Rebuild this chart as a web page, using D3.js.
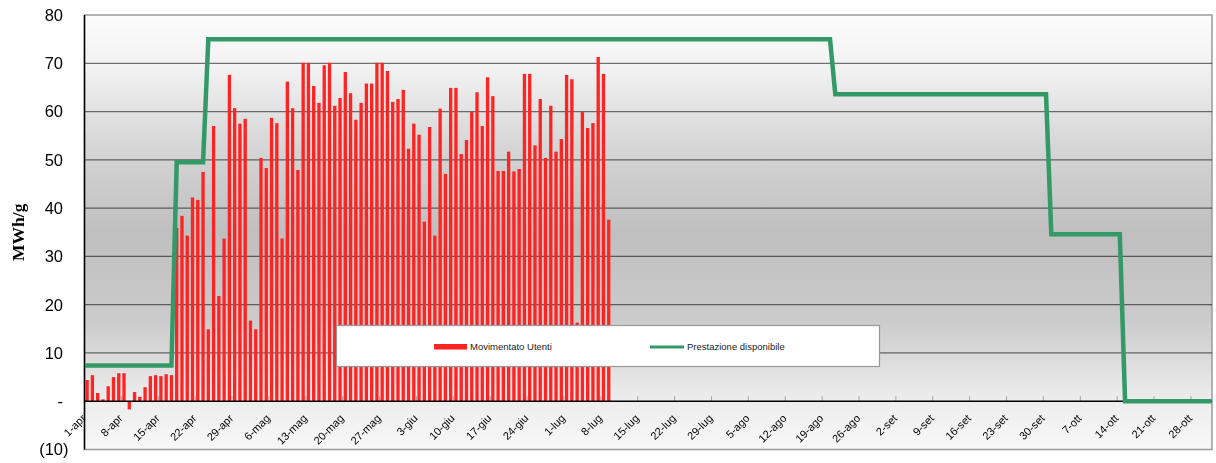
<!DOCTYPE html>
<html>
<head>
<meta charset="utf-8">
<script src="https://cdn.jsdelivr.net/npm/d3@7"></script>
<style>
  body { margin: 0; background: #fff; }
  svg { display: block; }
</style>
</head>
<body>
<svg id="chart" width="1216" height="463"></svg>
<script>
// Daily "Movimentato Utenti" values (MWh/g), from 1-apr onwards
const movimentato = [
    4.4, 5.4, 1.7, 0.4, 3.1, 5.0, 5.8, 5.8, -1.7, 1.9,
    0.9, 2.9, 5.2, 5.4, 5.2, 5.6, 5.4, 35.9, 38.4, 34.3,
    42.2, 41.7, 47.5, 14.9, 57.0, 21.8, 33.7, 67.6, 60.7, 57.5,
    58.5, 16.7, 14.9, 50.4, 48.3, 58.7, 57.6, 33.7, 66.2, 60.7,
    47.9, 70.1, 70.1, 65.3, 61.8, 69.6, 70.1, 61.2, 62.8, 68.2,
    63.8, 58.3, 61.8, 65.8, 65.8, 70.1, 70.1, 68.4, 62.0, 62.6,
    64.5, 52.3, 57.5, 55.2, 37.2, 56.8, 34.3, 60.6, 47.1, 64.9,
    64.9, 51.2, 54.1, 59.9, 64.0, 57.0, 67.1, 63.2, 47.7, 47.7,
    51.7, 47.6, 48.1, 67.8, 67.8, 53.0, 62.6, 50.4, 61.2, 51.7,
    54.3, 67.6, 66.7, 16.3, 59.9, 56.6, 57.6, 71.3, 67.8, 37.6
];

// "Prestazione disponibile" step line: corner days and values
const prestazioneDays = ["1-apr", "17-apr", "18-apr", "23-apr", "24-apr", "20-ago",
                         "21-ago", "30-set", "1-ott", "14-ott", "15-ott", "31-ott"];
const prestazioneValues = [7.4, 7.4, 49.5, 49.5, 75, 75, 63.6, 63.6, 34.6, 34.6, 0, 0];

// X tick labels (one every 7 days)
const tickLabels = ["1-apr", "8-apr", "15-apr", "22-apr", "29-apr", "6-mag", "13-mag",
    "20-mag", "27-mag", "3-giu", "10-giu", "17-giu", "24-giu", "1-lug", "8-lug",
    "15-lug", "22-lug", "29-lug", "5-ago", "12-ago", "19-ago", "26-ago", "2-set",
    "9-set", "16-set", "23-set", "30-set", "7-ott", "14-ott", "21-ott", "28-ott"];

const yTicks = [-10, 0, 10, 20, 30, 40, 50, 60, 70, 80];

// Italian short month names for the day categories
const itLocale = d3.timeFormatLocale({
    dateTime: "%A %e %B %Y, %X", date: "%d/%m/%Y", time: "%H:%M:%S",
    periods: ["AM", "PM"],
    days: ["domenica", "lunedì", "martedì", "mercoledì", "giovedì", "venerdì", "sabato"],
    shortDays: ["dom", "lun", "mar", "mer", "gio", "ven", "sab"],
    months: ["gennaio", "febbraio", "marzo", "aprile", "maggio", "giugno", "luglio",
             "agosto", "settembre", "ottobre", "novembre", "dicembre"],
    shortMonths: ["gen", "feb", "mar", "apr", "mag", "giu", "lug", "ago", "set", "ott", "nov", "dic"]
});
const dayFmt = itLocale.format("%-d-%b");
const days = d3.timeDay.range(new Date(2008, 3, 1), new Date(2008, 10, 1)).map(dayFmt);

const svg = d3.select("#chart");
const plot = { left: 84.5, right: 1212, top: 15, bottom: 449.5 };

const x = d3.scaleBand()
    .domain(days)
    .range([plot.left, plot.right])
    .paddingInner(0.37)
    .paddingOuter(0.185);
const step = x.step();
const catLeft = d => x(d) - step * 0.185;

const y = d3.scaleLinear().domain([-10, 80]).range([plot.bottom, plot.top]);

// Background gradient of the plot area
const defs = svg.append("defs");
const grad = defs.append("linearGradient")
    .attr("id", "bg").attr("x1", 0).attr("y1", 0).attr("x2", 0).attr("y2", 1);
[[0, "#fcfcfc"], [0.12, "#f2f2f2"], [0.3, "#d6d6d6"], [0.5, "#bfbfbf"],
 [0.7, "#cbcbcb"], [0.88, "#ececec"], [1, "#f8f8f8"]].forEach(s => {
    grad.append("stop").attr("offset", s[0]).attr("stop-color", s[1]);
});

svg.append("rect")
    .attr("x", plot.left).attr("y", plot.top)
    .attr("width", plot.right - plot.left).attr("height", plot.bottom - plot.top)
    .attr("fill", "url(#bg)")
    .attr("stroke", "#9a9a9a").attr("stroke-width", 1.5);

// Gridlines
svg.append("g")
    .selectAll("line")
    .data(yTicks.filter(v => v > 0 && v < 80))
    .join("line")
    .attr("x1", plot.left).attr("x2", plot.right)
    .attr("y1", d => y(d)).attr("y2", d => y(d))
    .attr("stroke", "#767676")
    .attr("stroke-width", 1.3)
    .style("mix-blend-mode", "multiply");

// Small tick marks on the category axis
svg.append("g")
    .selectAll("line")
    .data(tickLabels)
    .join("line")
    .attr("x1", d => catLeft(d)).attr("x2", d => catLeft(d))
    .attr("y1", y(0) - 5).attr("y2", y(0))
    .attr("stroke", "#a0a0a0");

// Bars
svg.append("g")
    .selectAll("rect")
    .data(movimentato)
    .join("rect")
    .attr("x", (d, i) => x(days[i]))
    .attr("width", x.bandwidth())
    .attr("y", d => y(Math.max(0, d)))
    .attr("height", d => Math.abs(y(d) - y(0)))
    .attr("fill", "#ff2424");

// Axis lines
svg.append("line")
    .attr("x1", plot.left).attr("x2", plot.right)
    .attr("y1", y(0)).attr("y2", y(0))
    .attr("stroke", "#000").attr("stroke-width", 1.5);
svg.append("line")
    .attr("x1", plot.left).attr("x2", plot.left)
    .attr("y1", plot.top).attr("y2", plot.bottom)
    .attr("stroke", "#000").attr("stroke-width", 1.5);

// Green step line
const line = d3.line()
    .x(d => x(d[0]) + x.bandwidth() / 2)
    .y(d => y(d[1]));
svg.append("path")
    .datum(prestazioneDays.map((d, i) => [d, prestazioneValues[i]]))
    .attr("d", line)
    .attr("fill", "none")
    .attr("stroke", "#339966")
    .attr("stroke-width", 4.5)
    .attr("stroke-linecap", "square");

// Y axis labels
const yAxis = svg.append("g")
    .attr("font-family", "Liberation Sans, Arial, sans-serif")
    .attr("font-size", 16.5)
    .attr("fill", "#000");
yAxis.selectAll("text")
    .data(yTicks)
    .join("text")
    .attr("x", d => d < 0 ? 68.5 : 63)
    .attr("y", d => y(d))
    .attr("dy", "0.36em")
    .attr("text-anchor", "end")
    .text(d => d === 0 ? "-" : d < 0 ? "(" + Math.abs(d) + ")" : d);

svg.append("text")
    .attr("transform", "translate(24," + ((plot.top + plot.bottom) / 2) + ") rotate(-90)")
    .attr("text-anchor", "middle")
    .attr("font-family", "Liberation Serif, Times New Roman, serif")
    .attr("font-weight", "bold")
    .attr("font-size", 17.5)
    .text("MWh/g");

// X tick labels
svg.append("g")
    .attr("font-family", "Liberation Sans, Arial, sans-serif")
    .attr("font-size", 11)
    .selectAll("text")
    .data(tickLabels)
    .join("text")
    .attr("transform", d => "translate(" + (catLeft(d) + 2) + ",419) rotate(-45)")
    .attr("text-anchor", "end")
    .text(d => d);

// Legend
const legend = svg.append("g");
legend.append("rect")
    .attr("x", 336.5).attr("y", 325.5)
    .attr("width", 543).attr("height", 41)
    .attr("fill", "#fff")
    .attr("stroke", "#999").attr("stroke-width", 1.2);
legend.append("rect")
    .attr("x", 434).attr("y", 344)
    .attr("width", 33).attr("height", 5.5)
    .attr("fill", "#ff2424");
legend.append("line")
    .attr("x1", 650).attr("x2", 684)
    .attr("y1", 347).attr("y2", 347)
    .attr("stroke", "#339966").attr("stroke-width", 3);
legend.selectAll("text")
    .data([["Movimentato Utenti", 470], ["Prestazione disponibile", 687]])
    .join("text")
    .attr("x", d => d[1])
    .attr("y", 347)
    .attr("dy", "0.35em")
    .attr("font-family", "Liberation Sans, Arial, sans-serif")
    .attr("font-size", 9.5)
    .attr("fill", "#222")
    .text(d => d[0]);
</script>
</body>
</html>
